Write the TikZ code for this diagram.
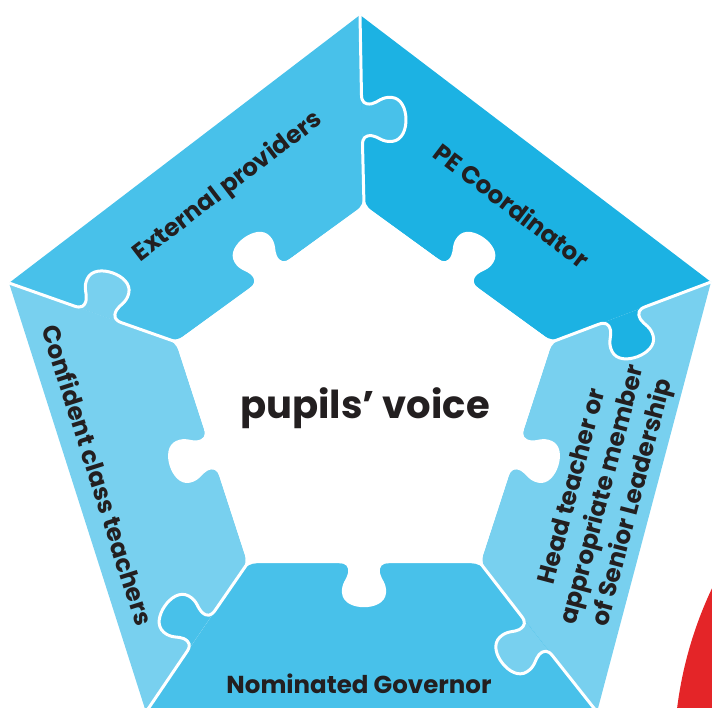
\documentclass[tikz,border=0pt]{standalone}
\usepackage{fontspec}
\setmainfont{Poppins}
\usetikzlibrary{calc}
\definecolor{ext-blue}{HTML}{48C1EA}
\definecolor{pe-blue}{HTML}{1CB2E3}
\definecolor{light-blue}{HTML}{78D0EF}
\definecolor{dark-text}{HTML}{231F20}
\definecolor{red-disc}{HTML}{E42528}
% one jigsaw knob, base from (-25,0) to (25,0), head pointing to +y
\newcommand{\puzzleknob}{.. controls (-18,0) and (-15,3) .. (-16,10) .. controls (-17,16) and (-23,20) .. (-22,30) .. controls (-21,40) and (-10,44) .. (0,44) .. controls (10,44) and (21,40) .. (22,30) .. controls (23,20) and (17,16) .. (16,10) .. controls (15,3) and (18,0) .. (25,0)}

\begin{document}
\begin{tikzpicture}[x=1pt, y=1pt,
  divider/.style={draw=white, line width=3pt, line join=round},
  piecelabel/.style={text=dark-text, font=\bfseries\fontsize{24.5}{31}\selectfont}]
\useasboundingbox (0,0) rectangle (712,-708);
\clip (0,0) rectangle (712,-708);
% outer corners
\coordinate (O1) at (360,-15);
\coordinate (O2) at (711,-282);
\coordinate (O3) at (597,-712);
\coordinate (O4) at (146,-712);
\coordinate (O5) at (9,-283);
% inner corners
\coordinate (C) at (364,-403);
\coordinate (I1) at (364,-205);
\coordinate (I2) at (552.3,-341.8);
\coordinate (I3) at (480.4,-563.2);
\coordinate (I4) at (247.6,-563.2);
\coordinate (I5) at (175.7,-341.8);

% red disc, bottom right
\fill[red-disc] (1071,-758) circle [radius=397];

% the five pieces (round corners on the inside)
\fill[ext-blue] (O5) -- (O1) [rounded corners=9] -- (I1) -- (I5) [sharp corners] -- cycle;
\fill[pe-blue] (O1) -- (O2) [rounded corners=9] -- (I2) -- (I1) [sharp corners] -- cycle;
\fill[light-blue] (O2) -- (O3) [rounded corners=9] -- (I3) -- (I2) [sharp corners] -- cycle;
\fill[ext-blue] (O3) -- (O4) [rounded corners=9] -- (I4) -- (I3) [sharp corners] -- cycle;
\fill[light-blue] (O4) -- (O5) [rounded corners=9] -- (I5) -- (I4) [sharp corners] -- cycle;

% tabs
\fill[ext-blue, shift={(362,-120)}, rotate=-88.8] (-25,0) \puzzleknob -- cycle;
\fill[pe-blue, shift={(622,-315.5)}, rotate=200.6] (-25,0) \puzzleknob -- cycle;
\fill[light-blue, shift={(537,-636)}, rotate=128.1] (-25,0) \puzzleknob -- cycle;
\fill[ext-blue, shift={(201,-631)}, rotate=55.7] (-25,0) \puzzleknob -- cycle;
\fill[light-blue, shift={(98,-314.4)}, rotate=-19.4] (-25,0) \puzzleknob -- cycle;

% white joints between pieces
\path[divider, shift={(362,-120)}, rotate=-88.8] (O1) -- (-25,0) \puzzleknob -- (I1);
\path[divider, shift={(622,-315.5)}, rotate=200.6] (O2) -- (-25,0) \puzzleknob -- (I2);
\path[divider, shift={(537,-636)}, rotate=128.1] (O3) -- (-25,0) \puzzleknob -- (I3);
\path[divider, shift={(201,-631)}, rotate=55.7] (O4) -- (-25,0) \puzzleknob -- (I4);
\path[divider, shift={(98,-314.4)}, rotate=-19.4] (O5) -- (-25,0) \puzzleknob -- (I5);

% centre hole with its five knobs
\fill[white] (I1) -- (I2) -- (I3) -- (I4) -- (I5) -- cycle;
\foreach \k in {0,...,4}
  \fill[white, shift={($(C)+(54-72*\k:160.2)$)}, rotate=-36-72*\k]
    (-25,-3) -- (-25,0) \puzzleknob -- (25,-3) -- cycle;

% labels
\node[piecelabel, rotate=37.4] (ext) at (228,-187) {External providers};
\node[piecelabel, rotate=-37.3] (pe) at (512,-205) {PE Coordinator};
\node[piecelabel, rotate=-72.3] (teachers) at (98,-475) {Confident class teachers};
\node[piecelabel, rotate=75.2, align=center] (head) at (604,-495) {Head teacher or\\appropriate member\\of Senior Leadership};
\node[piecelabel] (governor) at (359,-684) {Nominated Governor};
\node[text=dark-text, font=\bfseries\fontsize{38.5}{44}\selectfont] (voice) at (365,-408) {pupils’ voice};
\end{tikzpicture}
\end{document}
